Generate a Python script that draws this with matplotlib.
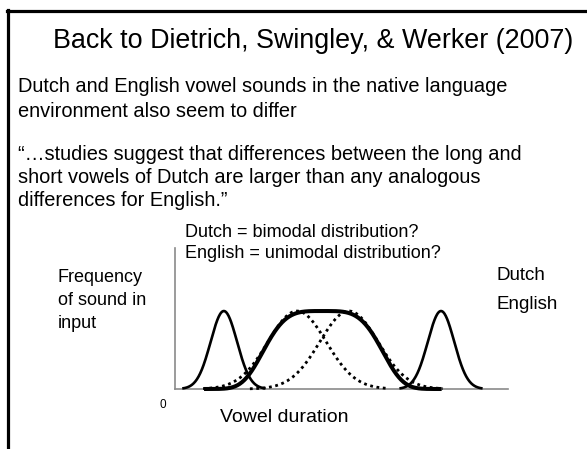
import numpy as np
import matplotlib
matplotlib.use('Agg')
import matplotlib.pyplot as plt
from matplotlib.lines import Line2D

W, H = 587, 449

# duration axis runs 0-100, frequency axis 0-1
dutch_centres = [14.8, 80.6]      # short and long Dutch vowels
dutch_spread = 4.0
dutch_reach = 12.6                # how far each Dutch curve is drawn from its centre
english_centre = 44.8
english_halfwidth = 17.9          # half width at half height of the English curve
english_reach = 36.0
sub_centres = [37.0, 52.7]        # the two overlapping dotted categories
sub_spread = 8.8
sub_reach = [(-28.5, 27.5), (-30.0, 28.5)]
peak_height = 0.553

title = "Back to Dietrich, Swingley, & Werker (2007)"
body_lines = ["Dutch and English vowel sounds in the native language",
              "environment also seem to differ",
              "",
              "\u201c\u2026studies suggest that differences between the long and",
              "short vowels of Dutch are larger than any analogous",
              "differences for English.\u201d"]
question_lines = ["Dutch = bimodal distribution?", "English = unimodal distribution?"]
ylabel_lines = ["Frequency", "of sound in", "input"]
legend_lines = ["Dutch", "English"]

plt.rcParams['font.family'] = ['Liberation Sans', 'DejaVu Sans']


def fx(px):
    return px / W


def fy(py):
    return 1 - py / H


def normal(x, mu, sd, h):
    return h * np.exp(-0.5 * ((x - mu) / sd) ** 2)


def flat_top(x, mu, hw, h):
    # broad, flat-topped bump (super-gaussian of order 4)
    return h * np.exp(-np.log(2) * ((x - mu) / hw) ** 4)


fig = plt.figure(figsize=(W / 100, H / 100), dpi=100)

# slide frame
fig.add_artist(Line2D([fx(8), fx(8)], [fy(10), fy(H + 2)], color='black', lw=2.3))
fig.add_artist(Line2D([fx(7), fx(W + 2)], [fy(11), fy(11)], color='black', lw=2.3))

fig.text(fx(313), fy(48), title, fontsize=19.4, ha='center', va='baseline')
body_y = [92, 117, 0, 160, 183, 206]
for line, y in zip(body_lines, body_y):
    if line:
        fig.text(fx(18), fy(y), line, fontsize=14.4, ha='left', va='baseline')

for line, y in zip(question_lines, [237, 258]):
    fig.text(fx(185), fy(y), line, fontsize=13, ha='left', va='baseline')
for line, y in zip(ylabel_lines, [282, 305, 328]):
    fig.text(fx(58), fy(y), line, fontsize=13, ha='left', va='baseline')
for line, y in zip(legend_lines, [280, 309]):
    fig.text(fx(497), fy(y), line, fontsize=13.5, ha='left', va='baseline')
fig.text(fx(163), fy(408), "0", fontsize=8.5, ha='center', va='baseline')
fig.text(fx(220), fy(422), "Vowel duration", fontsize=14, ha='left', va='baseline')

ax = fig.add_axes([fx(175), fy(389), fx(333), (389 - 248) / H])
ax.set_xlim(0, 100.9)
ax.set_ylim(0, 1)
for side in ['top', 'right']:
    ax.spines[side].set_visible(False)
for side in ['left', 'bottom']:
    ax.spines[side].set_color('#8a8a8a')
    ax.spines[side].set_linewidth(1.2)
ax.set_xticks([])
ax.set_yticks([])
ax.patch.set_alpha(0)

# Dutch: two narrow peaks
for c in dutch_centres:
    x = np.linspace(c - dutch_reach, c + dutch_reach, 200)
    ax.plot(x, normal(x, c, dutch_spread, peak_height), color='black', lw=1.9,
            clip_on=False, solid_capstyle='butt', zorder=3)

# English: one broad curve
x = np.linspace(english_centre - english_reach, english_centre + english_reach, 300)
ax.plot(x, flat_top(x, english_centre, english_halfwidth, peak_height), color='black',
        lw=2.9, clip_on=False, solid_capstyle='butt', zorder=3)

# the two categories hidden under the English curve
for c, (a, b) in zip(sub_centres, sub_reach):
    x = np.linspace(c + a, c + b, 300)
    ax.plot(x, normal(x, c, sub_spread, peak_height), color='black', lw=2.0,
            linestyle=(0, (1, 1.3)), clip_on=False, zorder=4)

fig.savefig('out.png', dpi=100)
